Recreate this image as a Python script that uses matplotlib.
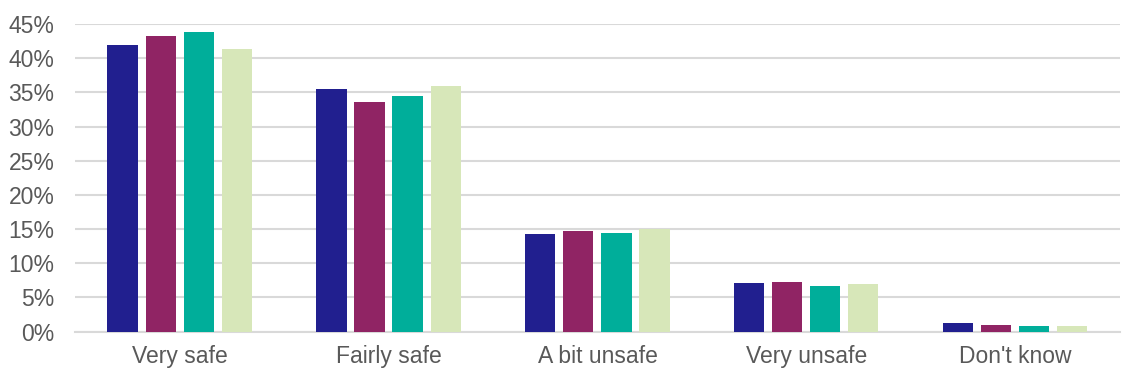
import matplotlib.pyplot as plt
import numpy as np

plt.rcParams['font.family'] = ['Liberation Sans', 'DejaVu Sans']

categories = ['Very safe', 'Fairly safe', 'A bit unsafe', 'Very unsafe', "Don't know"]
series_1 = [42.0, 35.5, 14.2, 7.1, 1.3]
series_2 = [43.3, 33.6, 14.7, 7.3, 1.0]
series_3 = [43.8, 34.4, 14.4, 6.7, 0.8]
series_4 = [41.4, 35.9, 15.0, 7.0, 0.8]
colors = ['#211F8F', '#902464', '#00AE9A', '#D7E7B9']
yticks = [0, 5, 10, 15, 20, 25, 30, 35, 40, 45]

fig = plt.figure(figsize=(11.38, 3.88), dpi=100)
ax = fig.add_axes([0.066, 0.1456, 0.918, 0.7924])

x = np.arange(len(categories))
width = 0.144
step = 0.182
for i, (vals, c) in enumerate(zip([series_1, series_2, series_3, series_4], colors)):
    ax.bar(x + (i - 1.5) * step, vals, width, color=c, zorder=3)

ax.set_xlim(-0.5, len(categories) - 0.5)
ax.set_ylim(0, 45)
ax.set_yticks(yticks)
ax.set_yticklabels([f'{t}%' for t in yticks])
ax.set_xticks(x)
ax.set_xticklabels(categories)
ax.grid(axis='y', color='#D9D9D9', linewidth=1.5, zorder=0)
ax.set_axisbelow(True)
for s in ['top', 'right', 'left']:
    ax.spines[s].set_visible(False)
ax.spines['bottom'].set_color('#D9D9D9')
ax.spines['bottom'].set_linewidth(1.5)
ax.tick_params(axis='y', length=0, pad=15, labelsize=16.5, labelcolor='#595959')
ax.tick_params(axis='x', length=0, pad=10, labelsize=16.5, labelcolor='#595959')

fig.savefig('out.png', dpi=100)
